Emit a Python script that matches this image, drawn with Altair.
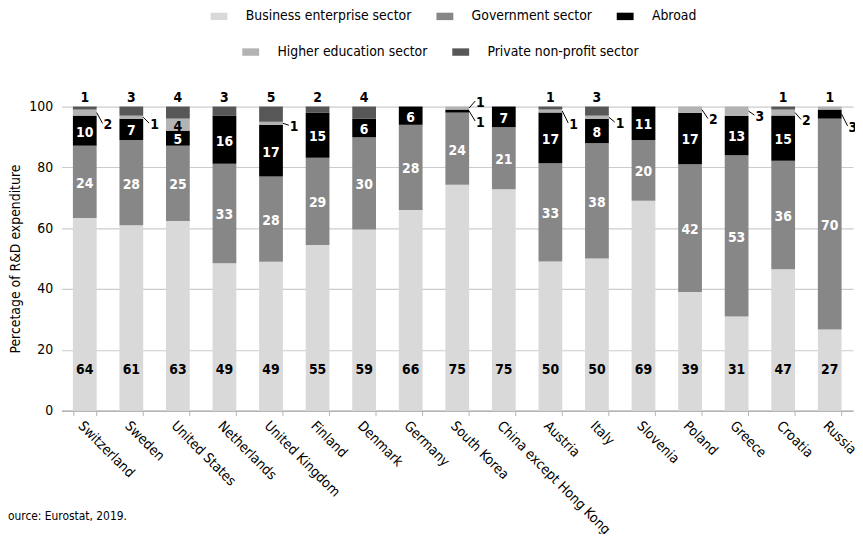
import altair as alt
import pandas as pd

countries = ["Switzerland", "Sweden", "United States", "Netherlands", "United Kingdom",
             "Finland", "Denmark", "Germany", "South Korea", "China except Hong Kong",
             "Austria", "Italy", "Slovenia", "Poland", "Greece", "Croatia", "Russia"]
business = [64, 61, 63, 49, 49, 55, 59, 66, 75, 75, 50, 50, 69, 39, 31, 47, 27]
government = [24, 28, 25, 33, 28, 29, 30, 28, 24, 21, 33, 38, 20, 42, 53, 36, 70]
abroad = [10, 7, 5, 16, 17, 15, 6, 6, 1, 7, 17, 8, 11, 17, 13, 15, 3]
higher_ed = [2, 1, 4, 0, 1, 0, 0, 0, 1, 0, 1, 1, 0, 2, 3, 2, 1]
private = [1, 3, 4, 3, 5, 2, 4, 0, 0, 0, 1, 3, 0, 0, 0, 1, 0]

series_names = ["Business enterprise sector", "Government sector", "Abroad",
                "Higher education sector", "Private non-profit sector"]
series_values = [business, government, abroad, higher_ed, private]
colors = ["#d9d9d9", "#878787", "#000000", "#b3b3b3", "#575757"]

# ---- layout settings (not data) ----
W, H = 799, 307
PX = H / 100.0
FONT = "DejaVu Sans Condensed"
# leader-line labels: (country, series) -> vertical pixel offset of the label
leader = {
    ("Switzerland", "Higher education sector"): 11,
    ("Sweden", "Higher education sector"): 6,
    ("United Kingdom", "Higher education sector"): 2,
    ("South Korea", "Higher education sector"): -7,
    ("South Korea", "Abroad"): 10,
    ("Austria", "Higher education sector"): 12,
    ("Italy", "Higher education sector"): 5,
    ("Poland", "Higher education sector"): 9,
    ("Greece", "Higher education sector"): 4,
    ("Croatia", "Higher education sector"): 7,
    ("Russia", "Abroad"): 12,
}
above_extra = {("Russia", "Higher education sector")}
inside_dark = {("United States", "Higher education sector")}

rows = []
for i, c in enumerate(countries):
    total = sum(s[i] for s in series_values)
    cum = 0
    for k, (name, vals) in enumerate(zip(series_names, series_values)):
        v = vals[i]
        y0 = cum / total * 100
        cum += v
        y1 = cum / total * 100
        if v > 0:
            rows.append(dict(country=c, series=name, value=v, y0=y0, y1=y1,
                             mid=(y0 + y1) / 2, grp=0 if k < 3 else 1))
bars = pd.DataFrame(rows)

white_lbl, black_lbl, top_lbl, lead_lbl = [], [], [], []
for r in rows:
    key = (r["country"], r["series"])
    txt = str(r["value"])
    if key in leader:
        dy = leader[key]
        lead_lbl.append(dict(country=r["country"], t=txt, ya=r["mid"], yb=r["mid"] - dy / PX))
    elif key in above_extra or r["series"] == "Private non-profit sector":
        top_lbl.append(dict(country=r["country"], t=txt, ly=100.0))
    elif r["series"] == "Business enterprise sector":
        black_lbl.append(dict(country=r["country"], t=txt, ly=14.0))
    elif key in inside_dark:
        black_lbl.append(dict(country=r["country"], t=txt, ly=r["mid"]))
    else:
        white_lbl.append(dict(country=r["country"], t=txt, ly=r["mid"]))

X = alt.X("country:N", sort=countries, title=None,
          scale=alt.Scale(paddingInner=0.49, paddingOuter=0.245),
          axis=alt.Axis(labelAngle=45, labelAlign="left", labelBaseline="top",
                        labelFont=FONT, labelFontSize=14, labelColor="#000",
                        labelPadding=3, tickBand="extent", tickSize=5,
                        tickColor="#b5b5b5", domainColor="#b5b5b5", domainWidth=1.5,
                        grid=False, labelLimit=300))
yaxis = alt.Axis(values=[0, 20, 40, 60, 80, 100], title="Percetage of R&D expenditure",
                 titleFont=FONT, titleFontSize=14, titleFontWeight="normal",
                 titleColor="#000", titleX=-46, titleY=H / 2, titleAngle=270,
                 titleAlign="center", titleBaseline="middle",
                 labelFont=FONT, labelFontSize=14, labelColor="#000", labelPadding=9,
                 domain=False, ticks=False, grid=True, gridColor="#cccccc", gridWidth=1.2)
yscale = alt.Scale(domain=[0, 100], nice=False)

sym = "M-1,-0.44H1V0.44H-1Z"


def legend(x, y):
    return alt.Legend(orient="none", legendX=x, legendY=y, direction="horizontal",
                      title=None, symbolType=sym, symbolSize=290, symbolStrokeWidth=0,
                      symbolOpacity=1, labelFont=FONT, labelFontSize=14, labelLimit=300,
                      labelColor="#000", labelOffset=18, columnPadding=24)


bars_a = alt.Chart(bars[bars.grp == 0]).mark_bar().encode(
    x=X, y=alt.Y("y0:Q", scale=yscale, axis=yaxis), y2="y1:Q",
    color=alt.Color("series:N", scale=alt.Scale(domain=series_names[:3], range=colors[:3]),
                    legend=legend(150, -100)))
bars_b = alt.Chart(bars[bars.grp == 1]).mark_bar().encode(
    x=X, y=alt.Y("y0:Q", scale=yscale, axis=yaxis), y2="y1:Q",
    color=alt.Color("series:N", scale=alt.Scale(domain=series_names[3:], range=colors[3:]),
                    legend=legend(182, -64)))

txt_kw = dict(font=FONT, fontSize=14, fontWeight="bold", baseline="middle")
white_t = alt.Chart(pd.DataFrame(white_lbl)).mark_text(color="white", dy=2, **txt_kw).encode(
    x=X, y=alt.Y("ly:Q", scale=yscale, axis=yaxis), text="t:N")
black_t = alt.Chart(pd.DataFrame(black_lbl)).mark_text(color="black", dy=2, **txt_kw).encode(
    x=X, y=alt.Y("ly:Q", scale=yscale, axis=yaxis), text="t:N")
top_t = alt.Chart(pd.DataFrame(top_lbl)).mark_text(color="black", dy=-9, **txt_kw).encode(
    x=X, y=alt.Y("ly:Q", scale=yscale, axis=yaxis), text="t:N")
lead_df = pd.DataFrame(lead_lbl)
lead_r = alt.Chart(lead_df).mark_rule(color="black", strokeWidth=1, xOffset=12, x2Offset=18).encode(
    x=X, x2="country:N", y=alt.Y("ya:Q", scale=yscale, axis=yaxis), y2="yb:Q")
lead_t = alt.Chart(lead_df).mark_text(color="black", dx=19, align="left", dy=2, **txt_kw).encode(
    x=X, y=alt.Y("yb:Q", scale=yscale, axis=yaxis), text="t:N")
source = alt.Chart(pd.DataFrame({"s": ["Source: Eurostat, 2019."]})).mark_text(
    font=FONT, fontSize=12, align="right", baseline="middle", color="#000").encode(
    x=alt.value(66), y=alt.value(413), text="s:N")

chart = alt.layer(bars_a, bars_b, white_t, black_t, top_t, lead_r, lead_t, source).resolve_scale(
    color="independent").properties(
    width=W, height=H,
    autosize=alt.AutoSizeParams(type="none"),
    padding={"left": 54, "top": 97, "right": 2, "bottom": 122},
).configure_view(stroke=None)

chart.save("out.html", embed_options={"renderer": "svg", "actions": False})
